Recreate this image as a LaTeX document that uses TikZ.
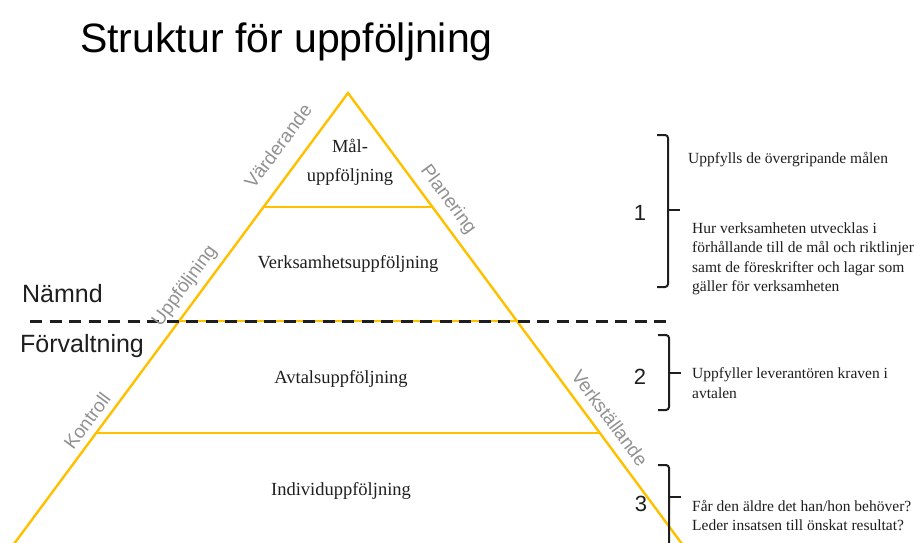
\documentclass[tikz,border=0pt]{standalone}
\usepackage{fontspec}
\setmainfont{Liberation Serif}
\newfontfamily\arialf{Liberation Sans}
\usetikzlibrary{calc}
\definecolor{pyr}{RGB}{255,192,0}
\definecolor{sidegray}{RGB}{145,145,145}
\definecolor{ink}{RGB}{30,30,30}
\begin{document}
\begin{tikzpicture}[x=1pt,y=-1pt,
  side/.style={draw=pyr,line width=2.4pt,line join=miter},
  tier/.style={draw=pyr,line width=2.4pt},
  dashline/.style={draw=ink,line width=2.4pt,dash pattern=on 12pt off 7.5pt},
  sidelbl/.style={text=sidegray,font=\arialf\fontsize{19}{21}\selectfont,inner sep=0pt},
  inlbl/.style={text=ink,font=\fontsize{18.5}{29}\selectfont,inner sep=0pt,align=center},
  big/.style={text=ink,font=\arialf\fontsize{25}{28}\selectfont,inner sep=0pt},
  num/.style={text=ink,font=\arialf\fontsize{22}{24}\selectfont,inner sep=0pt},
  note/.style={text=ink,font=\fontsize{15.5}{19.5}\selectfont,inner sep=0pt,align=left,anchor=west},
  brace/.style={draw=ink,line width=2pt,rounded corners=3pt}]
\useasboundingbox (0,0) rectangle (921,542);
\clip (0,0) rectangle (921,542);
% title
\node[text=black,font=\arialf\fontsize{41}{44}\selectfont,inner sep=0pt,anchor=base west] (title) at (80,52) {Struktur för uppföljning};
% pyramid
\coordinate (A) at (348,93);
\coordinate (BL) at (8,552);
\coordinate (BR) at (688,552);
\coordinate (L1) at (263.5,207); \coordinate (R1) at (432.5,207);
\coordinate (L2) at (179,321);   \coordinate (R2) at (517,321);
\coordinate (L3) at (96,433);    \coordinate (R3) at (600,433);
\draw[side] (BL) -- (A) -- (BR);
\draw[tier] (L1) -- (R1);
\draw[tier] (L2) -- (R2);
\draw[tier] (L3) -- (R3);
% dashed divider
\coordinate (D1) at (30,321.5); \coordinate (D2) at (668,321.5);
\draw[dashline] (D1) -- (D2);
% side labels
\node[sidelbl,rotate=53.5]  (vard)  at (278,146) {Värderande};
\node[sidelbl,rotate=-53.5] (plan)  at (448,200) {Planering};
\node[sidelbl,rotate=53.5]  (uppf)  at (185,286) {Uppföljning};
\node[sidelbl,rotate=53.5]  (kontr) at (87,421)  {Kontroll};
\node[sidelbl,rotate=-53.5] (verk)  at (610,418) {Verkställande};
% level labels
\node[inlbl] (mal)   at (350,162) {Mål-\\uppföljning};
\node[inlbl] (verks) at (348,264) {Verksamhetsuppföljning};
\node[inlbl] (avtal) at (341,379) {Avtalsuppföljning};
\node[inlbl] (indiv) at (341,491) {Individuppföljning};
% Nämnd / Förvaltning
\node[big,anchor=base west] (namnd) at (22,302) {Nämnd};
\node[big,anchor=base west] (forv)  at (20,352) {Förvaltning};
% braces
\coordinate (b1t) at (657,135); \coordinate (b1b) at (657,287);
\coordinate (b1m) at (668,210); \coordinate (b1e) at (680,210);
\draw[brace] (b1t) -- ++(11,0) -- ++(0,152) -- (b1b);
\draw[brace] (b1m) -- (b1e);
\coordinate (b2t) at (658,335); \coordinate (b2b) at (658,410);
\coordinate (b2m) at (669,373); \coordinate (b2e) at (681,373);
\draw[brace] (b2t) -- ++(11,0) -- ++(0,75) -- (b2b);
\draw[brace] (b2m) -- (b2e);
\coordinate (b3t) at (658,465); \coordinate (b3b) at (669,560);
\coordinate (b3m) at (669,497); \coordinate (b3e) at (681,497);
\draw[brace] (b3t) -- ++(11,0) -- (b3b);
\draw[brace] (b3m) -- (b3e);
% numbers
\node[num] (n1) at (640,213) {1};
\node[num] (n2) at (640,377) {2};
\node[num] (n3) at (641,504) {3};
% notes
\node[note] (t1a) at (688,160) {Uppfylls de övergripande målen};
\node[note] (t1b) at (692,259) {Hur verksamheten utvecklas i\\förhållande till de mål och riktlinjer\\samt de föreskrifter och lagar som\\gäller för verksamheten};
\node[note] (t2) at (692,383) {Uppfyller leverantören kraven i\\avtalen};
\node[note] (t3) at (692,515.5) {Får den äldre det han/hon behöver?\\Leder insatsen till önskat resultat?};
\end{tikzpicture}
\end{document}
